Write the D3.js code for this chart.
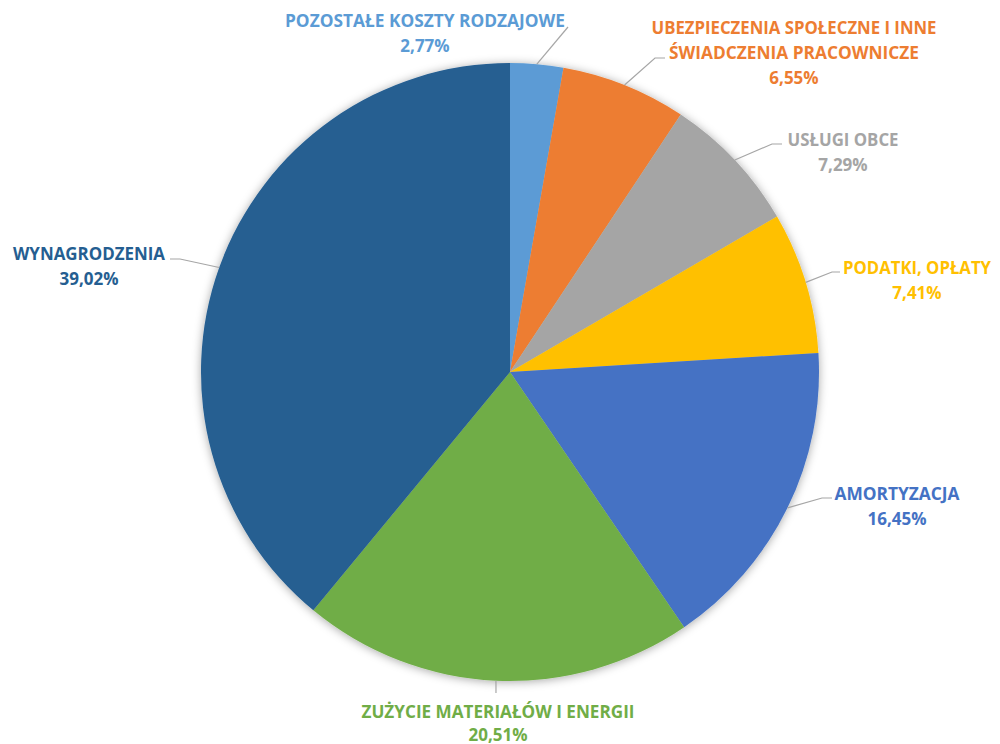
<!DOCTYPE html>
<html>
<head>
<meta charset="utf-8">
<script src="https://cdn.jsdelivr.net/npm/d3@7/dist/d3.min.js"></script>
<style>
html,body{margin:0;padding:0;background:#fff;}
svg{display:block;}
text{font-family:"Open Sans","Noto Sans",sans-serif;font-weight:700;}
</style>
</head>
<body>
<svg id="chart" width="1000" height="744"></svg>
<script>
// Data
const categories = [
  "POZOSTAŁE KOSZTY RODZAJOWE",
  "UBEZPIECZENIA SPOŁECZNE I INNE ŚWIADCZENIA PRACOWNICZE",
  "USŁUGI OBCE",
  "PODATKI, OPŁATY",
  "AMORTYZACJA",
  "ZUŻYCIE MATERIAŁÓW I ENERGII",
  "WYNAGRODZENIA"
];
const labelLines = [
  ["POZOSTAŁE KOSZTY RODZAJOWE"],
  ["UBEZPIECZENIA SPOŁECZNE I INNE", "ŚWIADCZENIA PRACOWNICZE"],
  ["USŁUGI OBCE"],
  ["PODATKI, OPŁATY"],
  ["AMORTYZACJA"],
  ["ZUŻYCIE MATERIAŁÓW I ENERGII"],
  ["WYNAGRODZENIA"]
];
const values = [2.77, 6.55, 7.29, 7.41, 16.45, 20.51, 39.02];
const valueLabels = ["2,77%", "6,55%", "7,29%", "7,41%", "16,45%", "20,51%", "39,02%"];
const colors = ["#5B9BD5", "#ED7D31", "#A5A5A5", "#FFC000", "#4472C4", "#70AD47", "#255E91"];

// Layout (label placement, leader elbows)
const layout = [
  {x: 425, y: 20,  lh: 25, w: [280], elbow: [568, 27], end: [568, 27]},
  {x: 794, y: 27,  lh: 25, w: [285, 250], elbow: [655, 58], end: [665, 58]},
  {x: 843, y: 139, lh: 25, w: [111], elbow: [772, 144], end: [782, 144]},
  {x: 917, y: 267, lh: 25, w: [148], elbow: [832, 272], end: [840, 272]},
  {x: 897, y: 493, lh: 25, w: [125], elbow: [822, 498], end: [832, 498]},
  {x: 498, y: 711, lh: 23, w: [273], elbow: [496, 693], end: [496, 693]},
  {x: 89,  y: 253, lh: 25, w: [152], elbow: [180, 259], end: [170, 259]}
];

const cx = 510, cy = 372, R = 309, fs = 17;
const svg = d3.select("#chart");

const defs = svg.append("defs");
const f = defs.append("filter").attr("id", "shadow")
  .attr("x", "-10%").attr("y", "-10%").attr("width", "120%").attr("height", "120%");
f.append("feDropShadow").attr("dx", 0).attr("dy", 1).attr("stdDeviation", 5)
  .attr("flood-color", "#000").attr("flood-opacity", 0.35);

const pie = d3.pie().sort(null).value(d => d)(values);
const arc = d3.arc().innerRadius(0).outerRadius(R);

const g = svg.append("g").attr("transform", `translate(${cx},${cy})`);
const pg = g.append("g").attr("filter", "url(#shadow)");
pg.selectAll("path").data(pie).join("path")
  .attr("d", arc)
  .attr("fill", (d, i) => colors[i]);

// Leader lines
const lg = svg.append("g");
pie.forEach((d, i) => {
  const a = (d.startAngle + d.endAngle) / 2;
  const sx = cx + R * Math.sin(a), sy = cy - R * Math.cos(a);
  const L = layout[i];
  lg.append("polyline")
    .attr("points", [[sx, sy], L.elbow, L.end].map(p => p.join(",")).join(" "))
    .attr("fill", "none").attr("stroke", "#A6A6A6").attr("stroke-width", 1.2);
});

// Labels
const tg = svg.append("g");
labelLines.forEach((lines, i) => {
  const L = layout[i];
  lines.forEach((ln, j) => {
    tg.append("text")
      .attr("x", L.x).attr("y", L.y + j * L.lh)
      .attr("text-anchor", "middle").attr("dominant-baseline", "central")
      .attr("font-size", fs).attr("fill", colors[i])
      .attr("textLength", L.w[j]).attr("lengthAdjust", "spacingAndGlyphs")
      .text(ln);
  });
  tg.append("text")
    .attr("x", L.x).attr("y", L.y + lines.length * L.lh)
    .attr("text-anchor", "middle").attr("dominant-baseline", "central")
    .attr("font-size", fs).attr("fill", colors[i])
    .text(valueLabels[i]);
});
</script>
</body>
</html>
